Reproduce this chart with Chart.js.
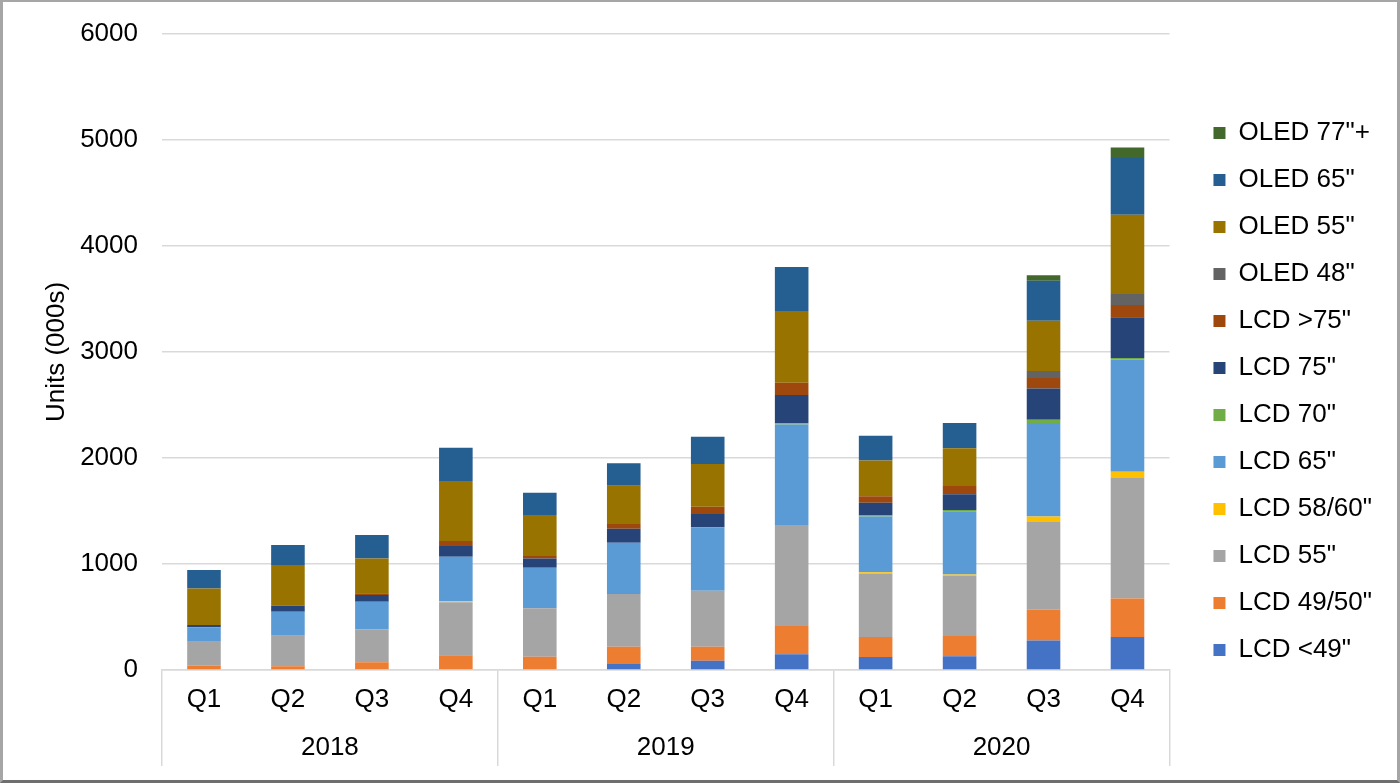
<!DOCTYPE html>
<html>
<head>
<meta charset="utf-8">
<script src="https://cdn.jsdelivr.net/npm/chart.js@4"></script>
<style>
  html, body { margin: 0; padding: 0; background: #fff; }
  #wrap {
    position: absolute; left: 0; top: 0; width: 1400px; height: 783px;
    box-sizing: border-box;
    border-top: 2px solid #a6a6a6; border-left: 3px solid #a6a6a6;
    border-right: 3px solid #a6a6a6; border-bottom: 3px solid #6e6e6e;
    background: #fff;
  }
  canvas { display: block; }
</style>
</head>
<body>
<div id="wrap"><canvas id="c" width="1394" height="778"></canvas></div>
<script>
// ---- data ----
const quarters = ['Q1','Q2','Q3','Q4','Q1','Q2','Q3','Q4','Q1','Q2','Q3','Q4'];
const years = ['2018','2019','2020'];
const yTicks = [0, 1000, 2000, 3000, 4000, 5000, 6000];

const lcdUnder49 = [0, 0, 0, 0, 0, 57, 88, 148, 123, 129, 278, 311];
const lcd4950    = [40, 35, 72, 138, 126, 163, 132, 267, 188, 192, 292, 364];
const lcd55      = [234, 289, 312, 500, 456, 497, 528, 953, 600, 570, 827, 1136];
const lcd5860    = [0, 0, 0, 10, 0, 0, 0, 0, 12, 10, 50, 60];
const lcd65      = [129, 226, 260, 421, 383, 484, 598, 949, 524, 596, 884, 1059];
const lcd70      = [0, 0, 0, 0, 0, 0, 0, 12, 10, 12, 30, 14];
const lcd75      = [22, 57, 63, 101, 88, 132, 126, 265, 122, 150, 295, 384];
const lcdOver75  = [0, 0, 16, 47, 22, 44, 69, 116, 60, 76, 99, 116];
const oled48     = [0, 0, 0, 0, 0, 0, 0, 0, 0, 0, 66, 102];
const oled55     = [345, 383, 330, 566, 387, 362, 402, 676, 338, 358, 474, 749];
const oled65     = [173, 189, 221, 314, 211, 211, 258, 415, 232, 238, 377, 536];
const oled77     = [0, 0, 0, 0, 0, 0, 0, 0, 0, 0, 53, 99];

const seriesNames = ['LCD <49"', 'LCD 49/50"', 'LCD 55"', 'LCD 58/60"', 'LCD 65"', 'LCD 70"',
                     'LCD 75"', 'LCD >75"', 'OLED 48"', 'OLED 55"', 'OLED 65"', 'OLED 77"+'];
const seriesData = [lcdUnder49, lcd4950, lcd55, lcd5860, lcd65, lcd70, lcd75, lcdOver75, oled48, oled55, oled65, oled77];
const seriesColors = ['#4472c4', '#ed7d31', '#a5a5a5', '#ffc000', '#5b9bd5', '#70ad47',
                      '#264478', '#9e480e', '#636363', '#997300', '#255e91', '#43682b'];

// ---- chart ----
const FS = 26;
Chart.defaults.font.family = '"Liberation Sans", Arial, sans-serif';
Chart.defaults.font.size = FS;
Chart.defaults.color = '#000';

const datasets = seriesNames.map((name, i) => ({
  label: name,
  data: seriesData[i],
  backgroundColor: seriesColors[i],
  borderWidth: 0,
  barPercentage: 0.4,
  categoryPercentage: 1.0
}));

new Chart(document.getElementById('c'), {
  type: 'bar',
  data: { labels: quarters, datasets },
  options: {
    responsive: false,
    animation: false,
    devicePixelRatio: 1,
    layout: { padding: { top: 17, bottom: 16, left: 0, right: 15 } },
    plugins: {
      legend: {
        position: 'right',
        reverse: true,
        labels: { boxWidth: 12, boxHeight: 12, padding: 21, font: { size: FS }, color: '#000' }
      },
      tooltip: { enabled: false }
    },
    scales: {
      x: {
        stacked: true,
        offset: true,
        grid: {
          offset: true,
          drawOnChartArea: false,
          drawTicks: true,
          tickLength: 96,
          color: (ctx) => (ctx.index === undefined || ctx.index % 4 === 0) ? '#d9d9d9' : 'rgba(0,0,0,0)',
          lineWidth: 1.5
        },
        border: { display: true, color: '#d9d9d9', width: 1.5 },
        ticks: { padding: -82, font: { size: FS }, color: '#000', maxRotation: 0, minRotation: 0, autoSkip: false },
        afterFit: (s) => { s.height = 45; }
      },
      x2: {
        type: 'category',
        labels: years,
        position: 'bottom',
        offset: true,
        grid: { display: false, drawTicks: false },
        border: { display: false },
        ticks: { padding: 17.4, font: { size: FS }, color: '#000', maxRotation: 0 },
        afterFit: (s) => { s.height = 49; }
      },
      y: {
        stacked: true,
        min: 0,
        max: 6000,
        afterBuildTicks: (s) => { s.ticks = yTicks.map(v => ({ value: v })); },
        grid: { color: '#d9d9d9', lineWidth: 1.5, drawTicks: true, tickLength: 7.6, tickColor: 'rgba(0,0,0,0)' },
        border: { display: false },
        ticks: { padding: 16.4, font: { size: FS }, color: '#000', callback: (v) => String(v) },
        title: { display: true, text: 'Units (000s)', font: { size: FS }, color: '#000', padding: { top: 38, bottom: 0 } },
        afterFit: (s) => { s.width = 159; }
      },
      yR: {
        type: 'linear',
        position: 'right',
        display: true,
        grid: { display: false, drawTicks: false },
        border: { display: false },
        ticks: { display: false },
        afterFit: (s) => { s.width = 23; }
      }
    }
  }
});
</script>
</body>
</html>
